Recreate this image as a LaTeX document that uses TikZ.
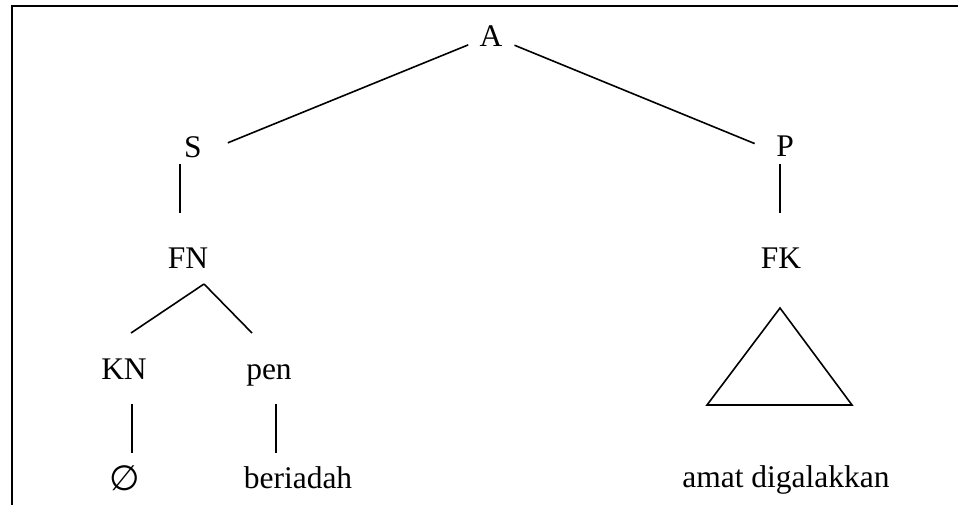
\documentclass[tikz,border=0pt]{standalone}
\usepackage{fontspec}
\setmainfont{Liberation Serif}
\newfontfamily\symfont{DejaVu Sans}
\begin{document}
\begin{tikzpicture}[x=0.5pt,y=-0.5pt,every node/.style={inner sep=0pt,anchor=base,font=\fontsize{15.75}{18}\selectfont},branch/.style={line width=0.8pt}]
\clip (0,0) rectangle (958,504);

%%% FRAME %%%
\draw [line width=1pt] (11.7,530) |- (980,6);

%%% LABELS %%%
\node at (491,46) (A) {A};
\node at (193,157) (S) {S};
\node at (785,156) (P) {P};
\node at (188,268) (FN) {FN};
\node at (781,268) (FK) {FK};
\node at (124,379) (KN) {KN};
\node at (269,379) (pen) {pen};
\node [font=\symfont\fontsize{17.5}{20}\selectfont] at (125,490) (empty_set) {∅};
\node at (298,488) (beriadah) {beriadah};
\node at (786,487) (amat_digalakkan) {amat digalakkan};

%%% BRANCHES %%%
\draw [branch,shorten <=12.3pt,shorten >=18.8pt] (A.center) -- (S.base);
\draw [branch,shorten <=12.7pt,shorten >=16.4pt] (A.center) -- (P.base);

\draw [branch] ([shift={(-13,7)}]S.base) -- ([shift={(-8,-55)}]FN.base);
\draw [branch] ([shift={(-5,8)}]P.base) -- ([shift={(-1,-55)}]FK.base);

\draw [branch] ([shift={(16,16)}]FN.base) -- ([shift={(7,-46)}]KN.base);
\draw [branch] ([shift={(16,16)}]FN.base) -- ([shift={(-17,-46)}]pen.base);

\draw [branch] ([shift={(8,25)}]KN.base) -- ([shift={(7,-37)}]empty_set.base);
\draw [branch] ([shift={(7,25)}]pen.base) -- ([shift={(-22,-35)}]beriadah.base);

%%% TRIANGLE %%%
\draw [branch,line join=miter] ([shift={(-1,40)}]FK.base) -- ++(72,97) -- ++(-145,0) -- cycle;
\end{tikzpicture}
\end{document}
